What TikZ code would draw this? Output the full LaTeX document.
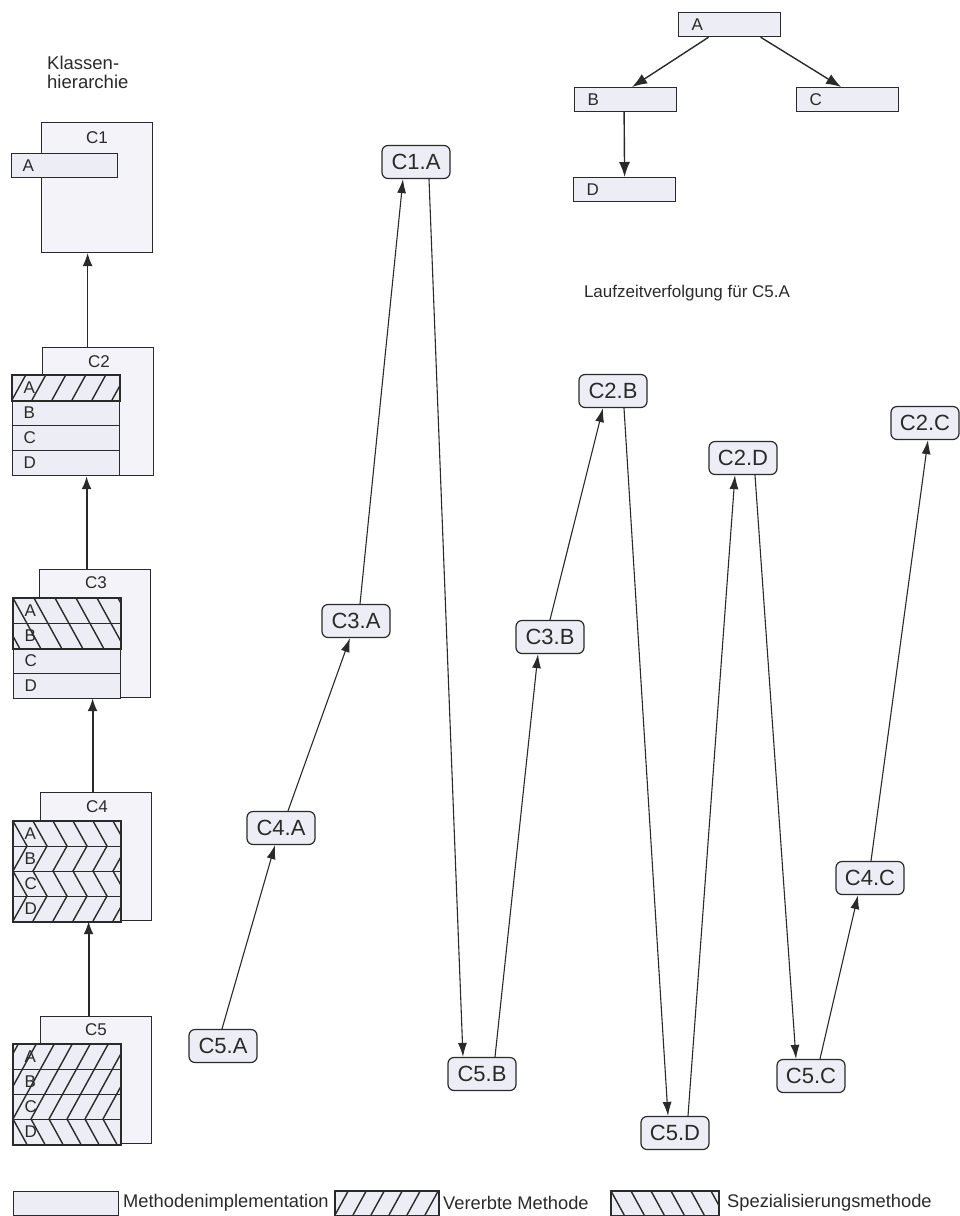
\documentclass[tikz,border=0pt]{standalone}
\usepackage{fontspec}
\setmainfont{Liberation Sans}
\usetikzlibrary{calc,arrows.meta}
\definecolor{ink}{HTML}{2A2A2A}
\definecolor{boxfill}{HTML}{EDEDF5}
\definecolor{clsfill}{HTML}{F3F3F9}
\newcommand\myfs[1]{\fontsize{#1}{#1}\selectfont}
\newcommand\hne[5]{\begin{scope}\clip (#1,#2) rectangle (#3,#4);
  \foreach \k in {-6,...,9}{\draw[hatch] ({#1+\k*#5},#4) -- ++({(#4-#2)*0.55},{-(#4-#2)});}\end{scope}}
\newcommand\hnw[5]{\begin{scope}\clip (#1,#2) rectangle (#3,#4);
  \foreach \k in {-6,...,9}{\draw[hatch] ({#1+\k*#5},#2) -- ++({(#4-#2)*0.55},{(#4-#2)});}\end{scope}}
\tikzset{
  cls/.style={draw=ink, fill=clsfill, line width=1.2pt, anchor=north west, inner sep=0pt},
  clslbl/.style={font=\myfs{17}, text=ink, inner sep=0pt},
  rowbox/.style={draw=ink, fill=boxfill, line width=1.2pt, anchor=north west,
    minimum height=25pt, text width=85pt, inner xsep=11pt, inner ysep=0pt,
    align=left, font=\myfs{17}, text=ink},
  hatch/.style={draw=ink, line width=1.4pt},
  harrow/.style={draw=ink, line width=2pt, -{Latex[length=13pt,width=10pt]}},
  tnode/.style={draw=ink, fill=boxfill, line width=1.2pt, rounded corners=6pt,
    minimum width=68pt, minimum height=33pt, inner sep=0pt, font=\myfs{22}, text=ink},
  tarrow/.style={draw=ink, line width=1.1pt, -{Latex[length=14pt,width=9pt]}},
  treebox/.style={draw=ink, fill=boxfill, line width=1.2pt, anchor=north west,
    minimum height=24pt, text width=76pt, inner xsep=13pt, inner ysep=0pt,
    align=left, font=\myfs{17}, text=ink},
  legbox/.style={draw=ink, fill=boxfill, line width=1.2pt, anchor=north west,
    minimum width=105pt, minimum height=24pt, inner sep=0pt},
  legtxt/.style={anchor=west, inner sep=0pt, font=\myfs{18.3}, text=ink},
}
\begin{document}
\begin{tikzpicture}[x=1pt,y=-1pt]
\useasboundingbox (0,0) rectangle (959,1216);

% ---------- Klassenhierarchie ----------
\node[anchor=north west, align=left, inner sep=0pt, font=\fontsize{18.5}{18.5}\selectfont, text=ink] (title) at (47,56) {Klassen-\\hierarchie};

% C1
\node[cls, minimum width=111pt, minimum height=130pt] (c1) at (41,122) {};
\node[clslbl] (c1l) at (97,138) {C1};
\node[rowbox, minimum height=24pt, text width=84pt] (c1ra) at (11,153) {A};

% C2
\node[cls, minimum width=111pt, minimum height=128pt] (c2) at (42,347) {};
\node[clslbl] (c2l) at (99,362) {C2};
\node[rowbox] (c2ra) at (12,375) {A};
\node[rowbox] (c2rb) at (12,400) {B};
\node[rowbox] (c2rc) at (12,425) {C};
\node[rowbox] (c2rd) at (12,450) {D};
\hne{12}{375}{119}{400}{20}
\draw[ink, line width=1.2pt] (c2ra.north west) rectangle (c2ra.south east);

% C3
\node[cls, minimum width=111pt, minimum height=128pt] (c3) at (39,569) {};
\node[clslbl] (c3l) at (96,583) {C3};
\node[rowbox] (c3ra) at (13,598) {A};
\node[rowbox] (c3rb) at (13,623) {B};
\node[rowbox] (c3rc) at (13,648) {C};
\node[rowbox] (c3rd) at (13,673) {D};
\hnw{13}{598}{120}{648}{21}
\draw[ink, line width=2pt] (c3ra.north west) rectangle (c3rb.south east);

% C4
\node[cls, minimum width=111pt, minimum height=128pt] (c4) at (40,792) {};
\node[clslbl] (c4l) at (97,807) {C4};
\node[rowbox] (c4ra) at (13,821) {A};
\node[rowbox] (c4rb) at (13,846) {B};
\node[rowbox] (c4rc) at (13,871) {C};
\node[rowbox] (c4rd) at (13,896) {D};
\begin{scope}
  \clip (13,821) rectangle (120,921);
  \foreach \k in {-2,...,7}{\draw[hatch] ({13+\k*20},821) -- ++(14,25) -- ++(-14,25) -- ++(14,25) -- ++(-14,25);}
\end{scope}
\draw[ink, line width=1.8pt] (c4ra.north west) rectangle (c4rd.south east);

% C5
\node[cls, minimum width=111pt, minimum height=127pt] (c5) at (40,1016) {};
\node[clslbl] (c5l) at (96,1030) {C5};
\node[rowbox] (c5ra) at (13,1044) {A};
\node[rowbox] (c5rb) at (13,1069) {B};
\node[rowbox] (c5rc) at (13,1094) {C};
\node[rowbox] (c5rd) at (13,1119) {D};
\hne{13}{1044}{120}{1119}{18}
\hnw{13}{1119}{120}{1144}{18}
\draw[ink, line width=1.4pt] (c5ra.north west) rectangle (c5rd.south east);

% hierarchy arrows
\draw[harrow, line width=1pt] ($(c2.north)+(-10.5pt,0)$) -- ($(c1.south)+(-9.5pt,0)$);
\draw[harrow] ($(c3.north)+(-8.5pt,0)$) -- ($(c2.south)+(-11.5pt,0)$);
\draw[harrow] ($(c4.north)+(-3.5pt,0)$) -- ($(c3.south)+(-2.5pt,0)$);
\draw[harrow] ($(c5.north)+(-7.5pt,0)$) -- ($(c4.south)+(-7.5pt,0)$);

% ---------- tree ----------
\node[treebox] (ta) at (678,12) {A};
\node[treebox] (tb) at (574,87) {B};
\node[treebox] (tc) at (796,87) {C};
\node[treebox] (td) at (573,177) {D};
\draw[tarrow, line width=1.4pt, -{Latex[length=15pt,width=11pt]}] ($(ta.south)+(-21pt,0)$) -- ($(tb.north)+(6.5pt,0)$);
\draw[tarrow, line width=1.4pt, -{Latex[length=15pt,width=11pt]}] ($(ta.south)+(31pt,0)$) -- ($(tc.north)+(-6.5pt,0)$);
\draw[tarrow, line width=1.4pt, -{Latex[length=15pt,width=11pt]}] ($(tb.south)+(-1.5pt,0)$) -- ($(td.north)+(0pt,0)$);

\node[inner sep=0pt, font=\myfs{17}, text=ink] (lauf) at (687,293) {Laufzeitverfolgung für C5.A};

% ---------- trace ----------
\node[tnode] (c1a) at (416,162) {C1.A};
\node[tnode] (c3a) at (356,621) {C3.A};
\node[tnode] (c4a) at (281,828) {C4.A};
\node[tnode] (c5a) at (223,1046) {C5.A};
\node[tnode] (c5b) at (482,1074) {C5.B};
\node[tnode] (c3b) at (550,637) {C3.B};
\node[tnode] (c2b) at (613,391) {C2.B};
\node[tnode] (c5d) at (675,1133) {C5.D};
\node[tnode] (c2d) at (743,458) {C2.D};
\node[tnode] (c5c) at (811,1076) {C5.C};
\node[tnode] (c4c) at (870,878) {C4.C};
\node[tnode] (c2c) at (925,423) {C2.C};

\draw[tarrow] ($(c5a.north)+(-1pt,0)$) -- ($(c4a.south)+(-6pt,0)$);
\draw[tarrow] ($(c4a.north)+(7pt,0)$) -- ($(c3a.south)+(-6pt,0)$);
\draw[tarrow] ($(c3a.north)+(4pt,0)$) -- ($(c1a.south)+(-13pt,0)$);
\draw[tarrow] ($(c1a.south)+(13pt,0)$) -- ($(c5b.north)+(-19pt,0)$);
\draw[tarrow] ($(c5b.north)+(13pt,0)$) -- ($(c3b.south)+(-12pt,0)$);
\draw[tarrow] ($(c3b.north)+(0pt,0)$) -- ($(c2b.south)+(-10pt,0)$);
\draw[tarrow] ($(c2b.south)+(11pt,0)$) -- ($(c5d.north)+(-7pt,0)$);
\draw[tarrow] ($(c5d.north)+(13pt,0)$) -- ($(c2d.south)+(-8pt,0)$);
\draw[tarrow] ($(c2d.south)+(12pt,0)$) -- ($(c5c.north)+(-15pt,0)$);
\draw[tarrow] ($(c5c.north)+(9pt,0)$) -- ($(c4c.south)+(-12pt,0)$);
\draw[tarrow] ($(c4c.north)+(1pt,0)$) -- ($(c2c.south)+(3pt,0)$);

% ---------- legend ----------
\node[legbox] (lg1) at (13,1191) {};
\node[legtxt] (lt1) at (123,1203) {Methodenimplementation};
\node[legbox, minimum width=103pt] (lg2) at (335,1191) {};
\hne{335}{1191}{438}{1215}{18}
\draw[ink, line width=1.2pt] (lg2.north west) rectangle (lg2.south east);
\node[legtxt] (lt2) at (443,1203) {Vererbte Methode};
\node[legbox, minimum width=107pt] (lg3) at (611,1191) {};
\hnw{611}{1191}{718}{1215}{20}
\draw[ink, line width=1.2pt] (lg3.north west) rectangle (lg3.south east);
\node[legtxt] (lt3) at (727,1203) {Spezialisierungsmethode};
\end{tikzpicture}
\end{document}
